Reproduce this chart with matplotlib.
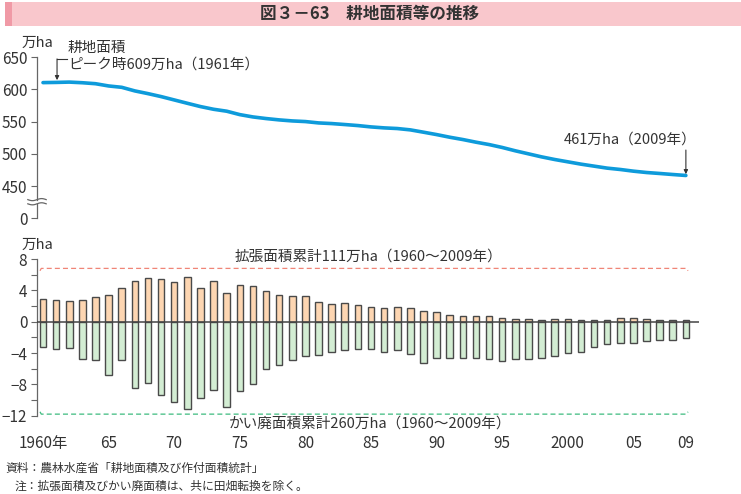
import numpy as np
import matplotlib
matplotlib.use("Agg")
import matplotlib.pyplot as plt
from matplotlib.patches import Rectangle

plt.rcParams['font.family'] = ['Noto Sans CJK JP', 'DejaVu Sans']

# ---------------- data ----------------
years = list(range(1960, 2010))
cultivated_area = [610.7, 611.0, 611.5, 610.5, 609.0, 605.5, 603.4, 597.8, 593.6, 589.0,
                   583.8, 578.6, 573.5, 569.3, 566.3, 561.0, 557.4, 554.9, 552.8, 551.2,
                   550.2, 548.1, 547.1, 545.6, 544.0, 541.9, 540.4, 539.4, 537.3, 533.7,
                   530.0, 525.9, 522.3, 518.2, 514.5, 510.0, 504.8, 500.1, 495.4, 491.3,
                   487.7, 484.1, 481.0, 477.9, 475.8, 473.2, 471.1, 469.6, 468.0, 466.5]
expansion = [2.95, 2.78, 2.65, 2.74, 3.16, 3.41, 4.29, 5.18, 5.52, 5.39,
             5.05, 5.68, 4.29, 5.22, 3.66, 4.67, 4.55, 3.92, 3.41, 3.28,
             3.24, 2.57, 2.23, 2.44, 2.15, 1.90, 1.77, 1.85, 1.77, 1.39,
             1.18, 0.84, 0.76, 0.67, 0.67, 0.50, 0.34, 0.29, 0.21, 0.38,
             0.34, 0.17, 0.21, 0.21, 0.50, 0.50, 0.34, 0.21, 0.21, 0.17]
abandonment = [-3.24, -3.54, -3.33, -4.80, -4.88, -6.86, -4.84, -8.50, -7.87, -9.30,
               -10.19, -11.16, -9.77, -8.72, -10.90, -8.80, -8.00, -5.98, -5.56, -4.93,
               -4.38, -4.29, -3.87, -3.58, -3.45, -3.54, -3.87, -3.66, -4.08, -5.22,
               -4.67, -4.67, -4.67, -4.67, -4.76, -5.05, -4.76, -4.76, -4.59, -4.34,
               -3.96, -3.83, -3.28, -2.82, -2.69, -2.78, -2.44, -2.32, -2.36, -2.11]
top_ticks = [400, 450, 500, 550, 600, 650]
top_tick_labels = ['0', '450', '500', '550', '600', '650']
bottom_ticks = [-12, -8, -4, 0, 4, 8]
x_tick_years = [1960, 1965, 1970, 1975, 1980, 1985, 1990, 1995, 2000, 2005, 2009]
x_tick_labels = ['1960年', '65', '70', '75', '80', '85', '90', '95', '2000', '05', '09']

title = '図３－63　耕地面積等の推移'
total_expansion_text = '拡張面積累計111万ha（1960～2009年）'
total_abandon_text = 'かい廃面積累計260万ha（1960～2009年）'

W, H = 741, 494
fig = plt.figure(figsize=(W / 100, H / 100), dpi=100)


def fx(px):
    return px / W


def fy(py):
    return (H - py) / H


TXT = '#333333'
AX = '#666666'

# ---------------- title bar ----------------
fig.patches.append(Rectangle((fx(5), fy(26)), fx(736), 24 / H, transform=fig.transFigure,
                             facecolor='#F9C7CC', edgecolor='none', zorder=0))
fig.patches.append(Rectangle((fx(5), fy(26)), fx(7), 24 / H, transform=fig.transFigure,
                             facecolor='#F09AA6', edgecolor='none', zorder=1))
fig.text(fx(370), fy(14), title, ha='center', va='center', fontsize=12, color='#333333',
         fontweight='bold')

xl = (1960 - 6 / 13.12, 1960 + 656 / 13.12)
ax_left = fx(37)
ax_w = fx(699 - 37)

# ---------------- top axes ----------------
ax1 = fig.add_axes([ax_left, fy(218.3), ax_w, (218.3 - 57.3) / H])
ax1.plot(years, cultivated_area, color='#0E9BDB', lw=2.6, solid_capstyle='round',
         solid_joinstyle='round', zorder=3)
ax1.set_xlim(*xl)
ax1.set_ylim(400, 650)
for s in ['top', 'right', 'bottom', 'left']:
    ax1.spines[s].set_visible(False)
ax1.set_xticks([])
ax1.set_yticks(top_ticks)
ax1.set_yticklabels(top_tick_labels)
ax1.tick_params(axis='y', length=4, width=0.8, color=AX, labelsize=11, labelcolor=TXT, pad=3)
# axis line with break
ax1.plot([xl[0], xl[0]], [650, 429], color=AX, lw=0.9, clip_on=False)
ax1.plot([xl[0], xl[0]], [422, 400], color=AX, lw=0.9, clip_on=False)
tt = np.linspace(-1, 1, 40)
dx = 0.7
for yy in (429, 422.5):
    ax1.plot(xl[0] + tt * dx, yy + 1.6 * np.sin(tt * np.pi), color=AX, lw=0.9, clip_on=False)
# annotations
ax1.text(1961.9, 664.5, '耕地面積', ha='left', va='center', fontsize=10.5, color=TXT,
         clip_on=False)
ax1.text(1961.9, 638, 'ピーク時609万ha（1961年）', ha='left', va='center', fontsize=10.5,
         color=TXT, clip_on=False)
ax1.plot([1961.85, 1961.07], [647.5, 647.5], color=TXT, lw=0.8, clip_on=False)
ax1.annotate('', xy=(1961.07, 614.5), xytext=(1961.07, 647.5),
             arrowprops=dict(arrowstyle='-|>', color=TXT, lw=0.8, mutation_scale=6,
                             shrinkA=0, shrinkB=0), annotation_clip=False)
ax1.text(2004.75, 521.5, '461万ha（2009年）', ha='center', va='center', fontsize=10.5,
         color=TXT)
ax1.annotate('', xy=(2009, 468.5), xytext=(2009, 506),
             arrowprops=dict(arrowstyle='-|>', color=TXT, lw=0.8, mutation_scale=6,
                             shrinkA=0, shrinkB=0))

# ---------------- bottom axes ----------------
ax2 = fig.add_axes([ax_left, fy(415.7), ax_w, (415.7 - 259) / H])
ax2.bar(years, expansion, width=0.5, color='#FDD6B2', edgecolor='#4a4a4a', linewidth=1.0,
        zorder=2)
ax2.bar(years, abandonment, width=0.5, color='#D3EDD3', edgecolor='#4a4a4a', linewidth=1.0,
        zorder=2)
ax2.axhline(0, color='#444444', lw=1.1, zorder=3)
ax2.set_xlim(*xl)
ax2.set_ylim(-12, 8)
for s in ['top', 'right', 'bottom']:
    ax2.spines[s].set_visible(False)
ax2.spines['left'].set_color(AX)
ax2.spines['left'].set_linewidth(0.9)
ax2.set_yticks(bottom_ticks)
ax2.set_yticks(list(range(-10, 8, 4)), minor=True)
ax2.tick_params(axis='y', which='major', length=4, width=0.8, color=AX, labelsize=11,
                labelcolor=TXT, pad=3)
ax2.tick_params(axis='y', which='minor', length=4, width=0.8, color=AX)
ax2.set_xticks(x_tick_years)
ax2.set_xticklabels(x_tick_labels)
ax2.tick_params(axis='x', length=0, labelsize=11, labelcolor=TXT, pad=14)

# cumulative brackets
x0, x1 = 1959.77, 2009.16
ax2.plot([x0, x0 + 0.1, x1 - 0.1, x1], [6.5, 6.8, 6.8, 6.5], color='#F08577', lw=0.9,
         ls=(0, (4, 2.5)), clip_on=False, zorder=1)
ax2.plot([x0, x0 + 0.1, x1 - 0.1, x1], [-11.5, -11.8, -11.8, -11.5], color='#3DBB7F', lw=0.9,
         ls=(0, (4, 2.5)), clip_on=False, zorder=1)
ax2.text(1984.8, 8.35, total_expansion_text, ha='center', va='center', fontsize=10.5,
         color=TXT, clip_on=False, bbox=dict(facecolor='white', edgecolor='none', pad=0.5))
ax2.text(1984.9, -12.95, total_abandon_text, ha='center', va='center', fontsize=10.5,
         color=TXT, clip_on=False, bbox=dict(facecolor='white', edgecolor='none', pad=0.5))

# unit labels
fig.text(fx(37.5), fy(43), '万ha', ha='center', va='center', fontsize=10.5, color=TXT)
fig.text(fx(37.5), fy(245), '万ha', ha='center', va='center', fontsize=10.5, color=TXT)

# footer
fig.text(fx(5), fy(468), '資料：農林水産省「耕地面積及び作付面積統計」', ha='left', va='center',
         fontsize=8.5, color=TXT)
fig.text(fx(15), fy(486), '注：拡張面積及びかい廃面積は、共に田畑転換を除く。', ha='left',
         va='center', fontsize=8.5, color=TXT)

fig.savefig('out.png', dpi=100)
